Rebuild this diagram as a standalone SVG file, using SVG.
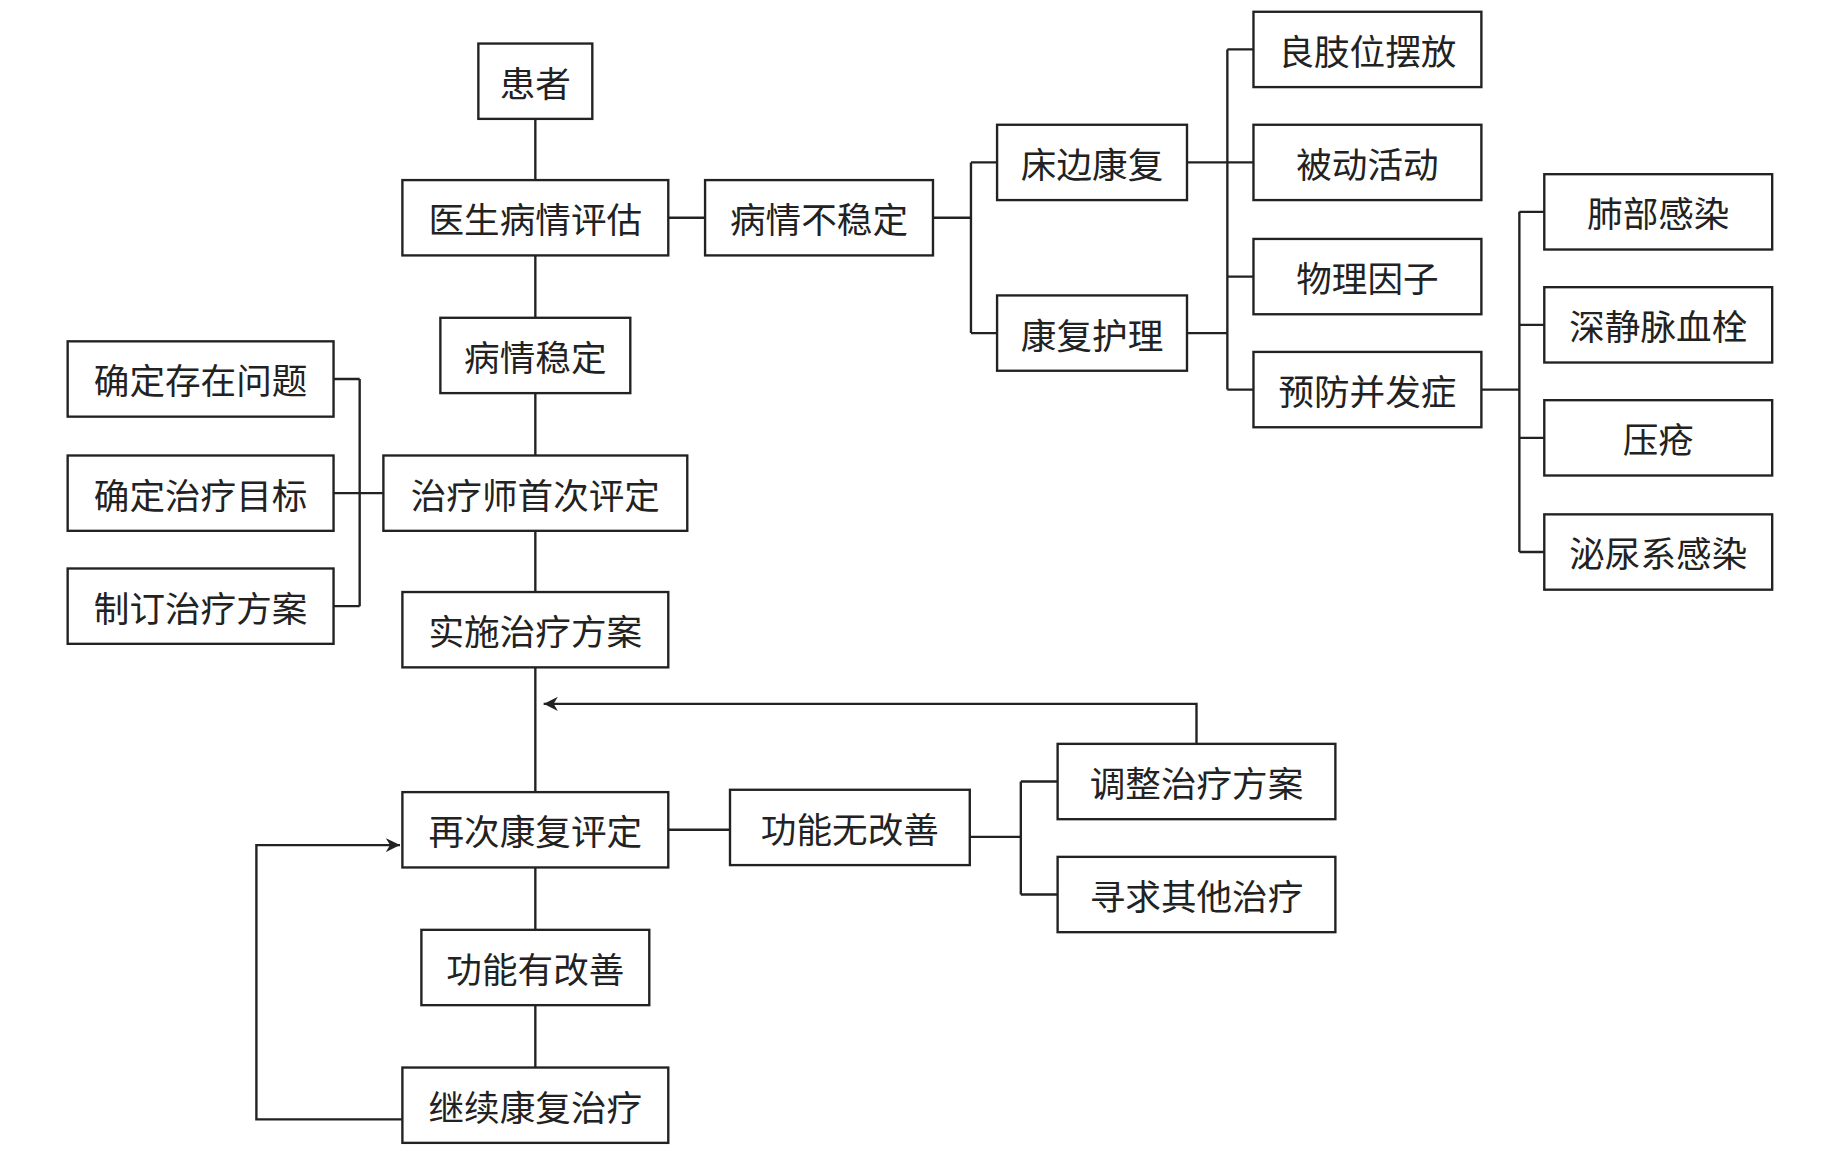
<svg xmlns="http://www.w3.org/2000/svg" width="1840" height="1159" viewBox="0 0 1840 1159">
<style>
.b rect{fill:#fff;stroke:#222;stroke-width:2}
.b text{font-family:"Noto Sans CJK SC","Noto Sans CJK JP",sans-serif;font-size:30px;fill:#222;text-anchor:middle;dominant-baseline:central}
.c path{fill:none;stroke:#222;stroke-width:2}
</style>
<defs><marker id="a" viewBox="0 0 10 10" refX="10" refY="5" markerWidth="12" markerHeight="12" markerUnits="userSpaceOnUse" orient="auto"><path d="M0,0 L10,5 L0,10 L3,5 Z" fill="#222"/></marker></defs>
<rect width="1840" height="1159" fill="#fff"/>
<g transform="scale(1.187,1.177)">
<g class="c">
<path d="M451,101 V907"/>
<path d="M563,185 H594 M786,185 H818 M818,138 V283 M818,138 H840 M818,283 H840"/>
<path d="M1000,138 H1034 M1000,283 H1034 M1034,42 V331 M1034,42 H1056 M1034,138 H1056 M1034,235 H1056 M1034,331 H1056"/>
<path d="M1248,331 H1280 M1280,180 V469 M1280,180 H1301 M1280,276 H1301 M1280,372 H1301 M1280,469 H1301"/>
<path d="M323,419 H303 M303,322 V515 M281,322 H303 M281,419 H303 M281,515 H303"/>
<path d="M563,705 H615 M817,711 H860 M860,664 V760 M860,664 H891 M860,760 H891"/>
<path d="M1008,632 V598 H458" marker-end="url(#a)"/>
<path d="M339,951 H216 V718 H337" marker-end="url(#a)"/>
</g>
<g class="b">
<g id="n1"><rect x="403" y="37" width="96" height="64"/><text x="451" y="69">患者</text></g>
<g id="n2"><rect x="339" y="153" width="224" height="64"/><text x="451" y="185">医生病情评估</text></g>
<g id="n3"><rect x="594" y="153" width="192" height="64"/><text x="690" y="185">病情不稳定</text></g>
<g id="n4"><rect x="840" y="106" width="160" height="64"/><text x="920" y="138">床边康复</text></g>
<g id="n5"><rect x="840" y="251" width="160" height="64"/><text x="920" y="283">康复护理</text></g>
<g id="n6"><rect x="1056" y="10" width="192" height="64"/><text x="1152" y="42">良肢位摆放</text></g>
<g id="n7"><rect x="1056" y="106" width="192" height="64"/><text x="1152" y="138">被动活动</text></g>
<g id="n8"><rect x="1056" y="203" width="192" height="64"/><text x="1152" y="235">物理因子</text></g>
<g id="n9"><rect x="1056" y="299" width="192" height="64"/><text x="1152" y="331">预防并发症</text></g>
<g id="n10"><rect x="1301" y="148" width="192" height="64"/><text x="1397" y="180">肺部感染</text></g>
<g id="n11"><rect x="1301" y="244" width="192" height="64"/><text x="1397" y="276">深静脉血栓</text></g>
<g id="n12"><rect x="1301" y="340" width="192" height="64"/><text x="1397" y="372">压疮</text></g>
<g id="n13"><rect x="1301" y="437" width="192" height="64"/><text x="1397" y="469">泌尿系感染</text></g>
<g id="n14"><rect x="371" y="270" width="160" height="64"/><text x="451" y="302">病情稳定</text></g>
<g id="n15"><rect x="323" y="387" width="256" height="64"/><text x="451" y="419">治疗师首次评定</text></g>
<g id="n16"><rect x="57" y="290" width="224" height="64"/><text x="169" y="322">确定存在问题</text></g>
<g id="n17"><rect x="57" y="387" width="224" height="64"/><text x="169" y="419">确定治疗目标</text></g>
<g id="n18"><rect x="57" y="483" width="224" height="64"/><text x="169" y="515">制订治疗方案</text></g>
<g id="n19"><rect x="339" y="503" width="224" height="64"/><text x="451" y="535">实施治疗方案</text></g>
<g id="n20"><rect x="891" y="632" width="234" height="64"/><text x="1008" y="664">调整治疗方案</text></g>
<g id="n21"><rect x="891" y="728" width="234" height="64"/><text x="1008" y="760">寻求其他治疗</text></g>
<g id="n22"><rect x="339" y="673" width="224" height="64"/><text x="451" y="705">再次康复评定</text></g>
<g id="n23"><rect x="615" y="671" width="202" height="64"/><text x="716" y="703">功能无改善</text></g>
<g id="n24"><rect x="355" y="790" width="192" height="64"/><text x="451" y="822">功能有改善</text></g>
<g id="n25"><rect x="339" y="907" width="224" height="64"/><text x="451" y="939">继续康复治疗</text></g>
</g>
</g>
</svg>
